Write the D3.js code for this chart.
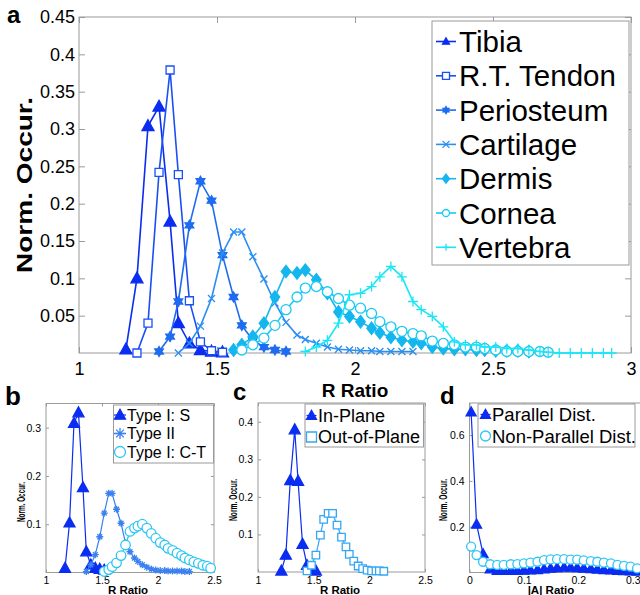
<!DOCTYPE html>
<html>
<head>
<meta charset="utf-8">
<script src="https://cdn.jsdelivr.net/npm/d3@7"></script>
<style>
  body { margin: 0; background: #fff; }
  text { font-family: "Liberation Sans", Arial, sans-serif; fill: #000; }
</style>
</head>
<body>
<div id="my_dataviz"></div>
<script>
// ---------- Data ----------
// R ratio bin centres (shared by panels a, b, c)
const rBins = [1.17,1.21,1.25,1.29,1.33,1.36,1.40,1.44,1.48,1.52,1.56,1.59,1.63,1.67,1.71,1.75,
  1.79,1.82,1.86,1.90,1.94,1.98,2.02,2.06,2.09,2.13,2.17,2.21,2.24,2.28,2.32,2.36,2.40,2.44,
  2.47,2.51,2.55,2.59,2.63,2.67,2.70,2.74,2.78,2.82,2.86,2.90,2.93]

// Panel a : each array starts at the bin given by "from" in the series list below
const tibia = [0.005,0.100,0.304,0.330,0.176,0.040,0.013,0.004,0.002,0.001]
const tendon = [0.000,0.040,0.242,0.379,0.239,0.070,0.015,0.003,0.001]
const periosteum = [0.002,0.022,0.069,0.171,0.230,0.204,0.131,0.075,0.037,0.017,0.008,0.004,0.002]
const cartilage = [0.000,0.013,0.036,0.073,0.134,0.162,0.162,0.129,0.099,0.067,0.041,0.024,0.018,
  0.013,0.008,0.005,0.004,0.003,0.003,0.002,0.002,0.002,0.002]
const dermis = [0.004,0.011,0.022,0.040,0.075,0.109,0.107,0.111,0.098,0.080,0.055,0.049,0.042,0.033,
  0.027,0.021,0.017,0.015,0.013,0.008,0.006,0.005,0.005,0.004,0.004,0.003,0.003,0.003,0.002]
const cornea = [0.004,0.011,0.020,0.037,0.058,0.075,0.087,0.089,0.082,0.073,0.064,0.060,0.053,0.042,
  0.035,0.029,0.026,0.023,0.016,0.013,0.011,0.008,0.008,0.006,0.004,0.002,0.002,0.002,0.002,0.001]
const vertebra = [0.002,0.008,0.017,0.040,0.078,0.080,0.089,0.102,0.116,0.102,0.069,0.058,0.049,0.035,
  0.015,0.011,0.011,0.008,0.008,0.006,0.006,0.004,0.002,0.001,0.000,0.000,0.000,0.000,0.000,0.000]

// Panel b
const typeS = [0.009,0.103,0.309,0.331,0.176,0.043,0.016,0.009,0.007,0.005]
const typeII = [0.002,0.016,0.037,0.074,0.123,0.164,0.164,0.131,0.102,0.061,0.043,0.030,0.023,0.016,
  0.011,0.007,0.005,0.004,0.004,0.003,0.003,0.003,0.003,0.002,0.002]
const typeCT = [0.002,0.006,0.012,0.020,0.035,0.057,0.085,0.092,0.096,0.100,0.092,0.081,0.071,0.062,
  0.057,0.050,0.046,0.040,0.035,0.030,0.026,0.022,0.019,0.015,0.013,0.009]

// Panel c
const inPlane = [0.003,0.045,0.244,0.379,0.242,0.074,0.018,0.009,0.003]
const outPlane = [0.003,0.018,0.045,0.098,0.140,0.156,0.156,0.125,0.093,0.067,0.047,0.029,0.016,
  0.009,0.005,0.003,0.003,0.003,0.002]

// Panel d : |A| ratio bins
const aBins = [0.003,0.013,0.025,0.038,0.051,0.063,0.076,0.088,0.100,0.112,0.125,0.137,0.149,0.161,
  0.174,0.186,0.198,0.210,0.223,0.235,0.247,0.260,0.272,0.284,0.296,0.308]
const parallel = [0.700,0.210,0.081,0.015,0.008,0.008,0.008,0.008,0.009,0.010,0.012,0.015,0.018,
  0.020,0.022,0.022,0.020,0.018,0.016,0.014,0.012,0.010,0.008,0.007,0.006,0.005]
const nonParallel = [0.113,0.076,0.047,0.036,0.033,0.033,0.036,0.037,0.040,0.043,0.047,0.054,0.057,
  0.058,0.058,0.056,0.056,0.053,0.050,0.047,0.043,0.040,0.033,0.029,0.026,0.018]

// Tick values
const aXTicks = [1, 1.5, 2, 2.5, 3]
const aYTicks = [0.05, 0.1, 0.15, 0.2, 0.25, 0.3, 0.35, 0.4, 0.45]
const smallRTicks = [1, 1.5, 2, 2.5]
const bYTicks = [0.1, 0.2, 0.3]
const cYTicks = [0.1, 0.2, 0.3, 0.4]
const dXTicks = [0, 0.1, 0.2, 0.3]
const dYTicks = [0.2, 0.4, 0.6]

// ---------- Drawing ----------
var width = 640
var height = 595
const axisGray = "#9a9a9a"

const svg = d3.select("#my_dataviz")
  .append("svg")
    .attr("width", width)
    .attr("height", height)

// Marker shapes (MATLAB like), s = marker width in px
function markerPath(type, s) {
  const h = s / 2
  switch (type) {
    case "tri": return `M0,${-h * 1.05}L${h},${h * 0.75}L${-h},${h * 0.75}Z`
    case "square": return `M${-h},${-h}H${h}V${h}H${-h}Z`
    case "diamond": return `M0,${-h * 1.3}L${h},0L0,${h * 1.3}L${-h},0Z`
    case "circle": return `M${h},0A${h},${h} 0 1,1 ${-h},0A${h},${h} 0 1,1 ${h},0Z`
    case "x": return `M${-h},${-h}L${h},${h}M${-h},${h}L${h},${-h}`
    case "plus": return `M${-h},0H${h}M0,${-h}V${h}`
    case "asterisk": {
      const k = h * 0.7
      return `M${-h},0H${h}M0,${-h}V${h}M${-k},${-k}L${k},${k}M${-k},${k}L${k},${-k}`
    }
    case "hex": {
      const a = h * 0.866, b = h * 0.5
      return `M0,${-h}L${a},${b}L${-a},${b}ZM0,${h}L${-a},${-b}L${a},${-b}Z`
    }
  }
}

function markerFill(s) {
  if (s.fill) return s.color
  if (s.marker === "square" || s.marker === "circle") return "#fff"
  return "none"
}

// One panel : box, ticks, series, legend
function drawPanel(p) {
  const x = d3.scaleLinear().domain(p.xDomain).range([p.left, p.right])
  const y = d3.scaleLinear().domain(p.yDomain).range([p.bottom, p.top])
  const g = svg.append("g")

  const fmt = d => String(d)

  // bottom + left axes with inward ticks
  const bx = g.append("g")
    .attr("transform", `translate(0,${p.bottom})`)
    .call(d3.axisBottom(x).tickValues(p.xTicks).tickSize(-p.tick).tickPadding(p.xPad).tickFormat(fmt))
  const ly = g.append("g")
    .attr("transform", `translate(${p.left},0)`)
    .call(d3.axisLeft(y).tickValues(p.yTicks).tickSize(-p.tick).tickPadding(p.yPad).tickFormat(fmt))
  // mirrored ticks on top and right
  const tx = g.append("g")
    .attr("transform", `translate(0,${p.top})`)
    .call(d3.axisTop(x).tickValues(p.xTicks).tickSize(-p.tick).tickFormat(""))
  const ry = g.append("g")
    .attr("transform", `translate(${p.right},0)`)
    .call(d3.axisRight(y).tickValues(p.yTicks).tickSize(-p.tick).tickFormat(""))

  ;[bx, ly, tx, ry].forEach(a => {
    a.select(".domain").remove()
    a.selectAll("line").attr("stroke", axisGray)
    a.selectAll("text")
      .style("font-size", p.tickFont + "px")
      .style("font-family", '"Liberation Sans", Arial, sans-serif')
      .attr("fill", "#000")
  })

  g.append("rect")
    .attr("x", p.left)
    .attr("y", p.top)
    .attr("width", p.right - p.left)
    .attr("height", p.bottom - p.top)
    .attr("fill", "none")
    .attr("stroke", axisGray)

  // series : line then markers
  p.series.forEach(s => {
    const pts = s.values.map((v, i) => [p.bins[s.from + i], v])
    const line = d3.line().x(d => x(d[0])).y(d => y(d[1]))
    g.append("path")
      .attr("d", line(pts))
      .attr("fill", "none")
      .attr("stroke", s.color)
      .attr("stroke-width", p.lineWidth)
    g.append("g")
      .selectAll("path")
      .data(pts)
      .join("path")
        .attr("d", markerPath(s.marker, s.size))
        .attr("transform", d => `translate(${x(d[0])},${y(d[1])})`)
        .attr("fill", markerFill(s))
        .attr("stroke", s.color)
        .attr("stroke-width", 1.3)
  })

  // legend
  const lg = p.legend
  const L = svg.append("g")
  L.append("rect")
    .attr("x", lg.x).attr("y", lg.y)
    .attr("width", lg.w).attr("height", lg.h)
    .attr("fill", "#fff")
    .attr("stroke", axisGray)
  p.series.forEach((s, i) => {
    const cy = lg.y0 + i * lg.step
    L.append("line")
      .attr("x1", lg.mx - lg.half).attr("x2", lg.mx + lg.half)
      .attr("y1", cy).attr("y2", cy)
      .attr("stroke", s.color)
      .attr("stroke-width", p.lineWidth)
    L.append("path")
      .attr("d", markerPath(s.marker, lg.msize))
      .attr("transform", `translate(${lg.mx},${cy})`)
      .attr("fill", markerFill(s))
      .attr("stroke", s.color)
      .attr("stroke-width", 1.3)
    L.append("text")
      .attr("x", lg.tx)
      .attr("y", cy)
      .attr("dy", "0.36em")
      .style("font-size", lg.fs + "px")
      .text(s.name)
  })

  // axis titles and panel letter
  svg.append("text")
    .attr("x", p.xTitle[0]).attr("y", p.xTitle[1])
    .attr("text-anchor", "middle")
    .style("font-size", p.titleFont + "px")
    .style("font-weight", "bold")
    .text(p.xLabel)
  svg.append("text")
    .attr("transform", `translate(${p.yTitle[0]},${p.yTitle[1]}) rotate(-90)`)
    .attr("text-anchor", "middle")
    .attr("textLength", p.yTitle[2])
    .attr("lengthAdjust", "spacingAndGlyphs")
    .style("font-size", p.yTitleFont + "px")
    .style("font-weight", "bold")
    .text("Norm. Occur.")
  svg.append("text")
    .attr("x", p.letter[1]).attr("y", p.letter[2])
    .style("font-size", p.letter[3] + "px")
    .style("font-weight", "bold")
    .text(p.letter[0])
}

// ---------- Panel a ----------
drawPanel({
  left: 79, right: 631, top: 17, bottom: 353,
  xDomain: [1, 3], yDomain: [0, 0.45],
  xTicks: aXTicks, yTicks: aYTicks,
  tick: 6, xPad: 9.5, yPad: 4, tickFont: 18, lineWidth: 1.6,
  bins: rBins,
  series: [
    {name: "Tibia", values: tibia, from: 0, color: "#0b2df2", marker: "tri", fill: true, size: 12},
    {name: "R.T. Tendon", values: tendon, from: 1, color: "#1a4ff5", marker: "square", fill: false, size: 8},
    {name: "Periosteum", values: periosteum, from: 3, color: "#1f6cf0", marker: "hex", fill: true, size: 10},
    {name: "Cartilage", values: cartilage, from: 5, color: "#2a8ef2", marker: "x", fill: false, size: 7},
    {name: "Dermis", values: dermis, from: 10, color: "#14b6ee", marker: "diamond", fill: true, size: 9.5},
    {name: "Cornea", values: cornea, from: 11, color: "#18caf4", marker: "circle", fill: false, size: 10},
    {name: "Vertebra", values: vertebra, from: 17, color: "#1ae6f6", marker: "plus", fill: false, size: 10}
  ],
  legend: {x: 432, y: 21, w: 197, h: 244, y0: 41.5, step: 34.3, mx: 446, half: 10, msize: 7, tx: 459, fs: 29.5},
  xLabel: "R Ratio", xTitle: [355, 397], titleFont: 19,
  yTitle: [32, 185, 176], yTitleFont: 22,
  letter: ["a", 7, 23, 24]
})

// ---------- Panel b ----------
drawPanel({
  left: 46, right: 214, top: 403.5, bottom: 572.5,
  xDomain: [1, 2.5], yDomain: [0, 0.35],
  xTicks: smallRTicks, yTicks: bYTicks,
  tick: 3, xPad: 4.3, yPad: 5, tickFont: 10.5, lineWidth: 1.2,
  bins: rBins,
  series: [
    {name: "Type I: S", values: typeS, from: 0, color: "#0b2df2", marker: "tri", fill: true, size: 11},
    {name: "Type II", values: typeII, from: 5, color: "#3a80f0", marker: "asterisk", fill: false, size: 7},
    {name: "Type I: C-T", values: typeCT, from: 9, color: "#2cc6f4", marker: "circle", fill: false, size: 9.5}
  ],
  legend: {x: 113.5, y: 405, w: 100, h: 58, y0: 415, step: 18.5, mx: 120, half: 6, msize: 11, tx: 127, fs: 16},
  xLabel: "R Ratio", xTitle: [128, 594], titleFont: 11.5,
  yTitle: [25, 502, 40], yTitleFont: 10.5,
  letter: ["b", 5, 405, 26]
})

// ---------- Panel c ----------
drawPanel({
  left: 258, right: 425, top: 403, bottom: 572,
  xDomain: [1, 2.5], yDomain: [0, 0.45],
  xTicks: smallRTicks, yTicks: cYTicks,
  tick: 3, xPad: 4.3, yPad: 5, tickFont: 10.5, lineWidth: 1.2,
  bins: rBins,
  series: [
    {name: "In-Plane", values: inPlane, from: 1, color: "#0b2df2", marker: "tri", fill: true, size: 11},
    {name: "Out-of-Plane", values: outPlane, from: 7, color: "#35a6f4", marker: "square", fill: false, size: 7.5}
  ],
  legend: {x: 305, y: 404, w: 118.5, h: 43, y0: 415.5, step: 21.5, mx: 311.5, half: 5, msize: 10, tx: 318, fs: 18},
  xLabel: "R Ratio", xTitle: [340, 594], titleFont: 11.5,
  yTitle: [237, 500, 42], yTitleFont: 10.5,
  letter: ["c", 233, 400, 24]
})

// ---------- Panel d ----------
drawPanel({
  left: 469.5, right: 643.6, top: 403, bottom: 572.5,
  xDomain: [0, 0.32], yDomain: [0, 0.74],
  xTicks: dXTicks, yTicks: dYTicks,
  tick: 3, xPad: 4.3, yPad: 5, tickFont: 10.5, lineWidth: 1.2,
  bins: aBins,
  series: [
    {name: "Parallel Dist.", values: parallel, from: 0, color: "#0b2df2", marker: "tri", fill: true, size: 10},
    {name: "Non-Parallel Dist.", values: nonParallel, from: 0, color: "#2cc6f4", marker: "circle", fill: false, size: 9}
  ],
  legend: {x: 478, y: 404, w: 157, h: 43, y0: 414.5, step: 21.5, mx: 485.5, half: 5, msize: 10, tx: 492, fs: 18.5},
  xLabel: "|A| Ratio", xTitle: [551, 594], titleFont: 11.5,
  yTitle: [447, 500, 42], yTitleFont: 10.5,
  letter: ["d", 440, 404, 24]
})
</script>
</body>
</html>
